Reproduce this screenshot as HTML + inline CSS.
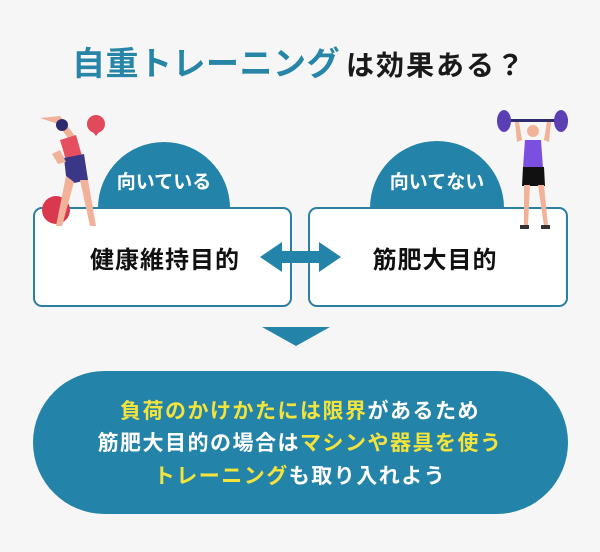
<!DOCTYPE html>
<html><head><meta charset="utf-8"><style>
html,body{margin:0;padding:0;background:#f6f6f6;}
svg{display:block}
text{font-family:"Liberation Sans","Noto Sans CJK JP",sans-serif;font-weight:bold;}
</style></head><body>
<svg width="600" height="552" viewBox="0 0 600 552" xmlns="http://www.w3.org/2000/svg">
<rect width="600" height="552" fill="#f6f6f6"/>
<text x="72" y="75" font-size="33" fill="#2785a8" letter-spacing="0.5">自重トレーニング<tspan fill="#1a1a1a" font-size="28" letter-spacing="2" dx="6">は効果ある？</tspan></text>

<!-- semicircles -->
<path d="M98 208 A66 66 0 0 1 230 208 Z" fill="#2483a8"/>
<path d="M370 208 A67 67 0 0 1 504 208 Z" fill="#2483a8"/>
<text x="164" y="188" font-size="19" fill="#fff" text-anchor="middle">向いている</text>
<text x="437" y="188" font-size="19" fill="#fff" text-anchor="middle">向いてない</text>

<!-- boxes -->
<rect x="34" y="208" width="257" height="98" rx="8" fill="#fff" stroke="#2c7fa3" stroke-width="2"/>
<rect x="309" y="208" width="258" height="98" rx="8" fill="#fff" stroke="#2c7fa3" stroke-width="2"/>
<text x="165" y="268" font-size="24" fill="#111" text-anchor="middle" letter-spacing="1">健康維持目的</text>
<text x="435" y="268" font-size="24" fill="#111" text-anchor="middle" letter-spacing="1">筋肥大目的</text>

<!-- double arrow -->
<path d="M260 257 L282 242 L282 251 L319 251 L319 242 L341 257 L319 272 L319 263 L282 263 L282 272 Z" fill="#2483a8"/>

<!-- woman figure -->
<circle cx="96" cy="124" r="9" fill="#e04a5a"/>
<path d="M88 126 L96 136 L104 126 Z" fill="#e04a5a"/>
<circle cx="56" cy="210" r="14" fill="#d9384f"/>
<path d="M40 118 L60 116 L78 140 L72 144 L58 124 Z" fill="#f2b29a"/>
<circle cx="62" cy="125" r="6" fill="#2d2a6e"/>
<path d="M60 140 L76 135 L82 156 L66 160 Z" fill="#e5505e"/>
<path d="M64 158 L84 154 L88 180 L74 183 L66 176 Z" fill="#3b3787"/>
<path d="M66 176 L74 182 L62 226 L56 226 Z" fill="#f2b29a"/>
<path d="M80 180 L88 180 L96 226 L90 226 Z" fill="#f2b29a"/>
<path d="M52 154 L58 164 L66 162 L60 150 Z" fill="#f2b29a"/>

<!-- man figure -->
<rect x="498" y="119" width="70" height="3" fill="#2d2a6e"/>
<ellipse cx="504" cy="121" rx="7" ry="11" fill="#5b3fb5"/>
<ellipse cx="561" cy="121" rx="7" ry="11" fill="#5b3fb5"/>
<path d="M515 122 L519 122 L522 140 L517 142 Z M547 122 L551 122 L549 142 L544 140 Z" fill="#f2b29a"/>
<circle cx="533" cy="131" r="6" fill="#f2b29a"/>
<path d="M525 140 L541 140 L543 168 L523 168 Z" fill="#7b4fe0"/>
<path d="M523 167 L544 167 L545 186 L522 186 Z" fill="#111"/>
<path d="M524 185 L530 185 L528 226 L524 226 Z M538 185 L544 185 L548 226 L544 226 Z" fill="#f2b29a"/>
<rect x="520" y="225" width="9" height="4" fill="#333"/>
<rect x="541" y="225" width="9" height="4" fill="#333"/>

<!-- down triangle -->
<path d="M262 327 L330 327 L296 346 Z" fill="#2483a8"/>

<!-- pill -->
<rect x="33" y="371" width="535" height="143" rx="71.5" fill="#2483a8"/>
<g font-size="21" text-anchor="middle" letter-spacing="1.5">
<text x="300" y="418" fill="#fff"><tspan fill="#f3e33d">負荷のかけかたには限界</tspan>があるため</text>
<text x="300" y="450" fill="#fff">筋肥大目的の場合は<tspan fill="#f3e33d">マシンや器具を使う</tspan></text>
<text x="300" y="483" fill="#fff"><tspan fill="#f3e33d">トレーニング</tspan>も取り入れよう</text>
</g>
</svg>
</body></html>
